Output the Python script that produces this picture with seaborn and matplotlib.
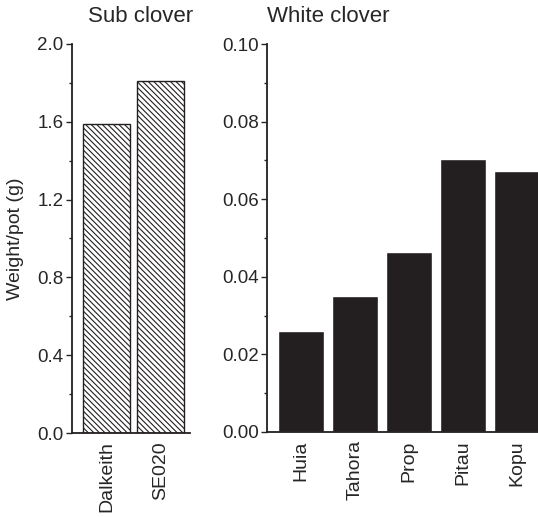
import seaborn as sns
import matplotlib.pyplot as plt
from matplotlib.ticker import MultipleLocator, FormatStrFormatter

sub_cultivars = ["Dalkeith", "SE020"]
sub_weights = [1.59, 1.81]
white_cultivars = ["Huia", "Tahora", "Prop", "Pitau", "Kopu"]
white_weights = [0.0261, 0.0351, 0.0465, 0.0704, 0.0673]

sns.set_style("ticks")
plt.rcParams['font.family'] = ['Liberation Sans', 'DejaVu Sans']
plt.rcParams['hatch.linewidth'] = 0.8

fig = plt.figure(figsize=(5.38, 5.17), dpi=100)
W, H = 538, 517
ax1 = fig.add_axes([72 / W, 84 / H, (190 - 72) / W, 389 / H])
ax2 = fig.add_axes([267 / W, 85 / H, (538 - 267) / W, 388 / H])

# sub clover - hatched bars
sns.barplot(x=sub_cultivars, y=sub_weights, ax=ax1, color="white",
            saturation=1, width=0.87, edgecolor="#231f20", linewidth=1.0)
for p in ax1.patches:
    p.set_hatch("\\" * 6)
ax1.set_xlim(-0.64, 1.55)
ax1.yaxis.set_major_locator(MultipleLocator(0.4))
ax1.yaxis.set_minor_locator(MultipleLocator(0.2))
ax1.yaxis.set_major_formatter(FormatStrFormatter("%.1f"))
ax1.set_ylim(0, 2.0)
ax1.set_ylabel("Weight/pot (g)", fontsize=14, labelpad=10)
ax1.set_title("Sub clover", fontsize=16, pad=16, x=0.58)

# white clover - solid bars
sns.barplot(x=white_cultivars, y=white_weights, ax=ax2, color="#231f20",
            saturation=1, width=0.86)
ax2.set_xlim(-0.63, 4.39)
ax2.yaxis.set_major_locator(MultipleLocator(0.02))
ax2.yaxis.set_minor_locator(MultipleLocator(0.01))
ax2.yaxis.set_major_formatter(FormatStrFormatter("%.2f"))
ax2.set_ylim(0, 0.10)
ax2.set_ylabel("")
ax2.set_title("White clover", fontsize=16, pad=16, loc="left")

for ax in (ax1, ax2):
    sns.despine(ax=ax)
    for s in ("left", "bottom"):
        ax.spines[s].set_linewidth(1.3)
        ax.spines[s].set_color("#231f20")
    ax.tick_params(axis="y", which="major", length=4, width=1, labelsize=13.5, pad=2)
    ax.tick_params(axis="y", which="minor", length=2, width=1)
    ax.tick_params(axis="x", length=0, labelsize=14, rotation=90, pad=6)
    ax.set_xlabel("")

fig.savefig("out.png", dpi=100)
